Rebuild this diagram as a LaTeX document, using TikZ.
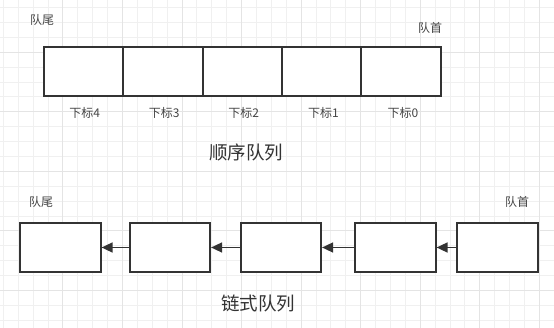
\documentclass[tikz,border=0pt]{standalone}
\usepackage{fontspec}
\newfontfamily\cjk{Noto Sans CJK SC}
\usepackage{tikz}
\usetikzlibrary{positioning,arrows.meta}

\definecolor{gridminor}{HTML}{F0F0F0}
\definecolor{gridmajor}{HTML}{E4E4E4}
\definecolor{boxline}{HTML}{333333}
\definecolor{txtgray}{HTML}{454545}

\begin{document}
\begin{tikzpicture}[x=1pt, y=-1pt,
  cell/.style={draw=boxline, line width=1.7pt, minimum width=79.4pt, minimum height=48.5pt, inner sep=0pt},
  link/.style={draw=boxline, fill=white, line width=1.7pt, minimum width=80.5pt, minimum height=49pt, inner sep=0pt},
  lbl/.style={font=\cjk\fontsize{12}{14}\selectfont, text=txtgray, inner sep=0pt},
  title/.style={font=\cjk\fontsize{18.5}{22}\selectfont, text=boxline, inner sep=0pt},
  nxt/.style={-{Triangle[length=11pt,width=10pt]}, draw=boxline, line width=1.6pt}]
  \useasboundingbox (0,0) rectangle (554,328);
  \fill[white] (0,0) rectangle (554,328);

  % grille de fond
  \foreach \k in {0,...,37} {
    \draw[gridminor, line width=0.8pt] (3.3+14.89*\k, 0) -- (3.3+14.89*\k, 328);
  }
  \foreach \k in {0,...,21} {
    \draw[gridminor, line width=0.8pt] (0, 7.5+14.89*\k) -- (554, 7.5+14.89*\k);
  }
  \foreach \k in {1,...,9} {
    \draw[gridmajor, line width=0.9pt] (3.3+59.56*\k, 0) -- (3.3+59.56*\k, 328);
  }
  \foreach \k in {0,...,4} {
    \draw[gridmajor, line width=0.9pt] (0, 52.2+59.56*\k) -- (554, 52.2+59.56*\k);
  }

  % file sequentielle
  \fill[white] (44, 47.25) rectangle (441, 95.75);
  \node[lbl] (seqtail) at (42, 20) {队尾};
  \node[lbl] (seqhead) at (430, 28) {队首};
  \foreach \i in {0,...,4} {
    \node[cell] (s\i) at (401-79.35*\i, 71.5) {};
    \node[lbl] (idx\i) at (403-79.6*\i, 113) {下标\i};
  }
  \node[title] (seqname) at (246, 152) {顺序队列};

  % file chainee
  \node[lbl] (lnktail) at (41, 202) {队尾};
  \node[lbl] (lnkhead) at (517, 202) {队首};
  \node[link] (c1) at (60.5, 247.5) {};
  \node[link] (c2) at (170, 247.5) {};
  \node[link] (c3) at (281, 247.5) {};
  \node[link] (c4) at (395.5, 247.5) {};
  \node[link] (c5) at (497.5, 247.5) {};
  \foreach \i/\j in {2/1, 3/2, 4/3, 5/4} {
    \draw[nxt] (c\i.west) -- (c\j.east);
  }
  \node[title] (lnkname) at (258, 303) {链式队列};
\end{tikzpicture}
\end{document}
